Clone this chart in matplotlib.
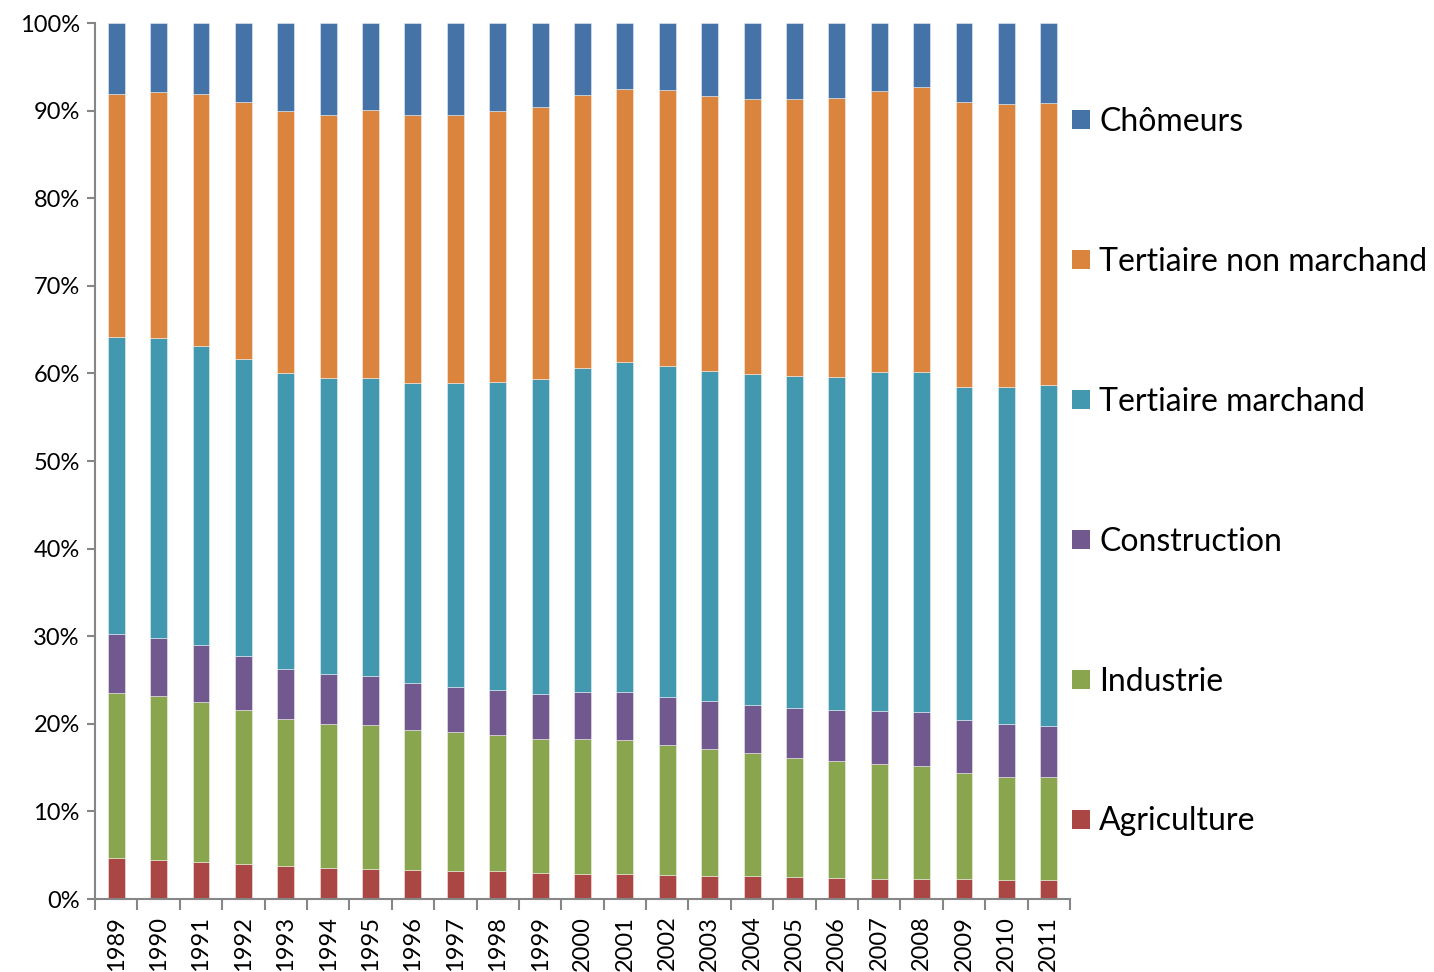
import matplotlib
matplotlib.use("Agg")
import matplotlib.pyplot as plt
import numpy as np
from matplotlib.patches import Patch

years = [str(y) for y in range(1989, 2012)]

# cumulative tops (in %)
agri_top = [4.7, 4.45, 4.26, 4.03, 3.80, 3.57, 3.46, 3.35, 3.23, 3.16, 3.0, 2.89,
            2.85, 2.78, 2.66, 2.66, 2.55, 2.43, 2.32, 2.28, 2.24, 2.2, 2.13]
indu_top = [23.48, 23.14, 22.49, 21.58, 20.55, 19.94, 19.82, 19.29, 19.02, 18.72, 18.26, 18.24,
            18.11, 17.62, 17.12, 16.63, 16.13, 15.72, 15.37, 15.18, 14.42, 13.96, 13.89]
cons_top = [30.2, 29.83, 29.0, 27.78, 26.3, 25.65, 25.46, 24.7, 24.24, 23.9, 23.44, 23.67,
            23.63, 23.1, 22.6, 22.18, 21.84, 21.61, 21.5, 21.38, 20.4, 19.94, 19.79]
tm_top = [64.19, 64.07, 63.16, 61.6, 60.0, 59.44, 59.51, 58.87, 58.87, 59.05, 59.36, 60.67,
          61.34, 60.88, 60.24, 59.9, 59.74, 59.63, 60.2, 60.12, 58.41, 58.41, 58.68]
tnm_top = [91.86, 92.12, 91.93, 90.98, 89.95, 89.46, 90.03, 89.46, 89.46, 89.95, 90.37, 91.75,
           92.47, 92.32, 91.7, 91.32, 91.32, 91.4, 92.24, 92.69, 90.95, 90.75, 90.9]

agriculture = np.array(agri_top)
industrie = np.array(indu_top) - np.array(agri_top)
construction = np.array(cons_top) - np.array(indu_top)
tert_march = np.array(tm_top) - np.array(cons_top)
tert_non_march = np.array(tnm_top) - np.array(tm_top)
chomeurs = 100 - np.array(tnm_top)

series_names = ["Agriculture", "Industrie", "Construction", "Tertiaire marchand",
                "Tertiaire non marchand", "Chômeurs"]
series_vals = [agriculture, industrie, construction, tert_march, tert_non_march, chomeurs]
colors = ["#AA4643", "#89A54E", "#71588F", "#4198AF", "#DB843D", "#4572A7"]

plt.rcParams['font.family'] = ['Lato', 'DejaVu Sans']

fig = plt.figure(figsize=(14.34, 9.72), dpi=100)
ax = fig.add_axes([95/1434, 73/972, (1070-95)/1434, (899-23)/972])

x = np.arange(len(years))
bottom = np.zeros(len(years))
for name, vals, c in zip(series_names, series_vals, colors):
    ax.bar(x, vals, bottom=bottom, width=0.4, color=c, edgecolor=(1, 1, 1, 0.5),
           linewidth=0.6, label=name, zorder=2)
    bottom = bottom + vals

ax.set_xlim(-0.5, len(years) - 0.5)
ax.set_ylim(0, 100)
ax.set_yticks(np.arange(0, 101, 10))
ax.set_yticklabels([f"{v}%" for v in range(0, 101, 10)], fontsize=17)
ax.set_xticks(x)
ax.set_xticklabels(years, rotation=90, fontsize=17)
ax.set_xticks(np.arange(-0.5, len(years), 1), minor=True)
ax.tick_params(axis='x', which='major', length=0, pad=12)
ax.tick_params(axis='x', which='minor', length=8, color='#868686', width=1.5, direction='out')
ax.tick_params(axis='y', which='major', length=6, color='#868686', width=1.5, direction='out', pad=5)

for s in ['top', 'right']:
    ax.spines[s].set_visible(False)
for s in ['left', 'bottom']:
    ax.spines[s].set_color('#868686')
    ax.spines[s].set_linewidth(1.5)

handles = [Patch(facecolor=c, edgecolor='none') for c in colors][::-1]
labels = series_names[::-1]
leg = fig.legend(handles, labels, loc='upper left', bbox_to_anchor=(1072/1434, 1 - 107/972),
                 frameon=False, fontsize=23, labelspacing=3.44, handlelength=0.55,
                 handleheight=0.55, handletextpad=0.3, borderaxespad=0, borderpad=0)

fig.savefig("out.png", dpi=100, facecolor='white')
